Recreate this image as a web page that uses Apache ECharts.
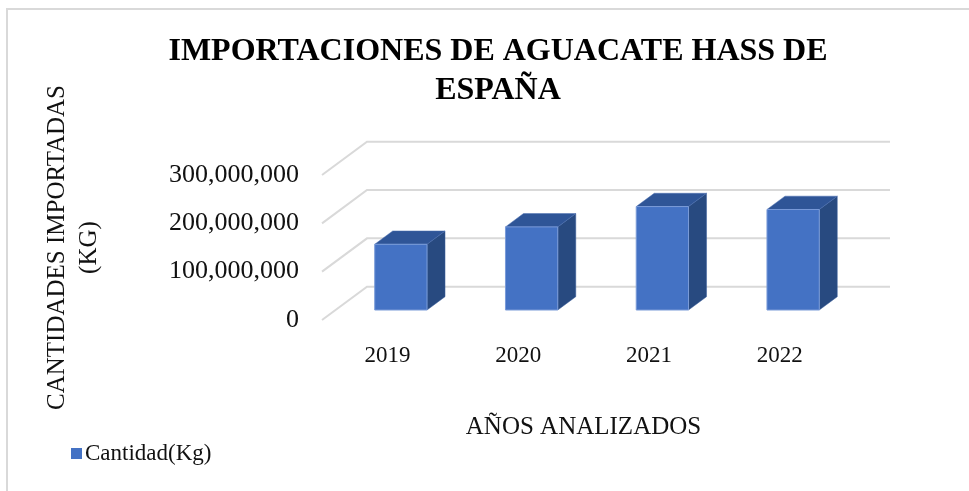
<!DOCTYPE html>
<html>
<head>
<meta charset="utf-8">
<script src="https://cdn.jsdelivr.net/npm/echarts@6/dist/echarts.min.js"></script>
<style>
  html, body { margin: 0; padding: 0; background: #fff; }
  #chart { width: 969px; height: 491px; }
</style>
</head>
<body>
<div id="chart"></div>
<script>
// datos
var years = ['2019', '2020', '2021', '2022'];
var cantidad = [136000000, 172000000, 214000000, 208000000];
var yTicks = [0, 100000000, 200000000, 300000000];

// perspectiva del piso (px)
var DX = 45, DY = -33.3;
var F1 = 0.3, F2 = 0.7, BAR = 0.4;

var chart = echarts.init(document.getElementById('chart'));

var font = 'Liberation Serif';

function gridItem(params, api) {
  var p = api.coord([0, api.value(1)]);
  var band = api.size([1, 0])[0];
  var left = p[0] - band / 2;
  var right = left + band * years.length;
  return {
    type: 'polyline',
    shape: { points: [[left, p[1]], [left + DX, p[1] + DY], [right + DX, p[1] + DY]] },
    style: { stroke: '#d9d9d9', lineWidth: 2, fill: null }
  };
}

function barItem(params, api) {
  var base = api.coord([api.value(0), 0]);
  var top = api.coord([api.value(0), api.value(1)]);
  var band = api.size([1, 0])[0];
  var w = band * BAR;
  var cx = base[0] + F1 * DX;
  var xl = cx - w / 2, xr = cx + w / 2;
  var yb = base[1] + F1 * DY, yt = top[1] + F1 * DY;
  var dx = (F2 - F1) * DX, dy = (F2 - F1) * DY;
  return {
    type: 'group',
    children: [
      {
        type: 'polygon',
        shape: { points: [[xr, yb], [xr + dx, yb + dy], [xr + dx, yt + dy], [xr, yt]] },
        style: { fill: '#284a80', stroke: '#3a5f9c', lineWidth: 0.5 }
      },
      {
        type: 'polygon',
        shape: { points: [[xl, yt], [xl + dx, yt + dy], [xr + dx, yt + dy], [xr, yt]] },
        style: { fill: '#2f5597', stroke: '#4a6fb0', lineWidth: 0.5 }
      },
      {
        type: 'rect',
        shape: { x: xl, y: yt, width: w, height: yb - yt },
        style: { fill: '#4472c4', stroke: '#7a9bd8', lineWidth: 1 }
      }
    ]
  };
}

var option = {
  backgroundColor: '#fff',
  animation: false,
  title: {
    text: 'IMPORTACIONES DE AGUACATE HASS DE\nESPAÑA',
    left: 493,
    textAlign: 'center',
    top: 27,
    textStyle: { fontFamily: font, fontSize: 32, fontWeight: 'bold', color: '#000', lineHeight: 39 }
  },
  legend: {
    data: [{ name: 'Cantidad(Kg)', icon: 'rect', itemStyle: { color: '#4472c4' } }],
    left: 66,
    top: 437,
    itemWidth: 11,
    itemHeight: 11,
    itemGap: 4,
    textStyle: { fontFamily: font, fontSize: 23, color: '#111', padding: [0, 0, 0, -2] }
  },
  grid: { left: 322, right: 124, top: 175, bottom: 171 },
  xAxis: {
    type: 'category',
    data: years,
    axisLine: { show: false },
    axisTick: { show: false },
    axisLabel: { fontFamily: font, fontSize: 23, color: '#111', margin: 24 },
    name: 'AÑOS ANALIZADOS',
    nameLocation: 'middle',
    nameGap: 95,
    nameTextStyle: { fontFamily: font, fontSize: 25, color: '#111' }
  },
  yAxis: {
    type: 'value',
    min: 0,
    max: 300000000,
    interval: 100000000,
    splitLine: { show: false },
    axisLine: { show: false },
    axisTick: { show: false },
    axisLabel: {
      fontFamily: font, fontSize: 26, color: '#111', margin: 23,
      formatter: function (v) { return v.toLocaleString('en-US'); }
    },
    name: 'CANTIDADES IMPORTADAS\n(KG)',
    nameLocation: 'middle',
    nameRotate: 90,
    nameGap: 217,
    nameTextStyle: { fontFamily: font, fontSize: 25, color: '#111', lineHeight: 32 }
  },
  graphic: [
    {
      type: 'rect',
      shape: { x: 7, y: 9, width: 1000, height: 1000 },
      style: { fill: null, stroke: '#d9d9d9', lineWidth: 2 },
      silent: true
    }
  ],
  series: [
    {
      name: 'grid',
      type: 'custom',
      renderItem: gridItem,
      data: yTicks.map(function (v) { return [0, v]; }),
      encode: { x: 0, y: 1 },
      clip: false,
      silent: true,
      z: 1
    },
    {
      name: 'Cantidad(Kg)',
      type: 'custom',
      renderItem: barItem,
      data: cantidad.map(function (v, i) { return [i, v]; }),
      encode: { x: 0, y: 1 },
      itemStyle: { color: '#4472c4' },
      clip: false,
      z: 2
    }
  ]
};

chart.setOption(option);
</script>
</body>
</html>
